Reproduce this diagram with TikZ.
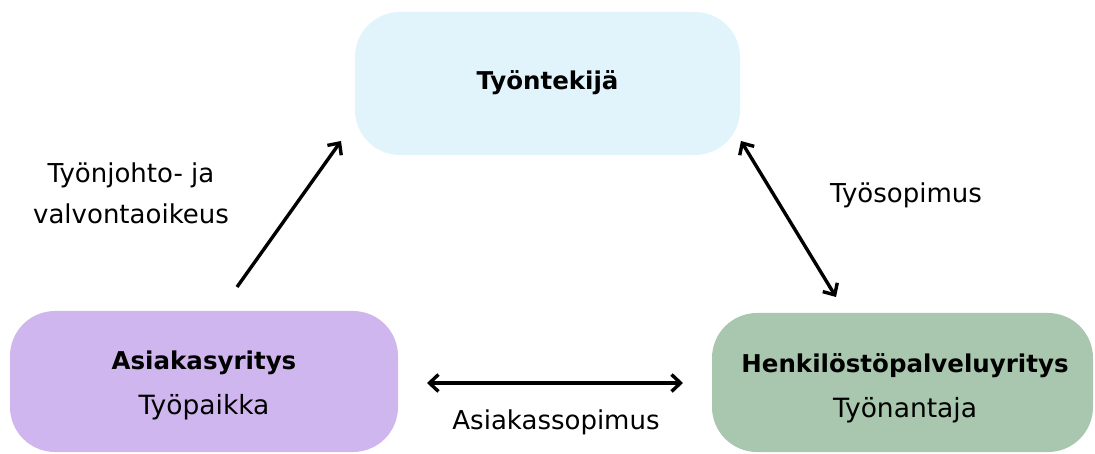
\documentclass[tikz,border=0pt]{standalone}
\usepackage{fontspec}
\setmainfont{DejaVu Sans}
\usetikzlibrary{arrows.meta}
\definecolor{topfill}{HTML}{E1F4FC}
\definecolor{leftfill}{HTML}{D0B6EE}
\definecolor{rightfill}{HTML}{A9C7AE}
\tikzset{
  party/.style={rounded corners=45pt, inner sep=0pt},
  partytext/.style={inner sep=0pt, align=center, font=\fontsize{26.5}{45}\selectfont},
  head/.style={font=\bfseries\fontsize{24.5}{45}\selectfont},
  barb/.tip={Straight Barb[length=9pt,width=17pt,line width=3.4pt]},
  rel/.style={line width=3.4pt, -barb},
  birel/.style={line width=3.4pt, barb-barb},
  lbl/.style={font=\fontsize{26}{41}\selectfont, align=center, inner sep=0pt}
}
\begin{document}
\begin{tikzpicture}[x=1pt,y=-1pt]
\useasboundingbox (0,0) rectangle (1095,454);
% the three parties
\node[party, fill=topfill, minimum width=385pt, minimum height=143pt] (worker) at (547.5,83.5) {};
\node[party, fill=leftfill, minimum width=388pt, minimum height=141pt] (client) at (204,381.5) {};
\node[party, fill=rightfill, minimum width=381pt, minimum height=139pt] (agency) at (902.5,382.5) {};
\node[partytext, head] (workertxt) at (547.5,83) {Työntekijä};
\node[partytext] (clienttxt) at (204,385) {{\bfseries\fontsize{24.5}{45}\selectfont Asiakasyritys}\\Työpaikka};
\node[partytext] (agencytxt) at (905,388) {{\bfseries\fontsize{24.5}{45}\selectfont Henkilöstöpalveluyritys}\\Työnantaja};
% connector ends
\coordinate (c1) at (237,287);
\coordinate (w1) at (341,141);
\coordinate (w2) at (741,141);
\coordinate (a1) at (836,297);
\coordinate (c2) at (427,383);
\coordinate (a2) at (683,383);
\draw[rel] (c1) -- (w1);
\draw[birel] (w2) -- (a1);
\draw[birel] (c2) -- (a2);
% relation labels
\node[lbl] (l1) at (131,193) {Työnjohto- ja\\valvontaoikeus};
\node[lbl] (l2) at (906,195) {Työsopimus};
\node[lbl] (l3) at (556,422) {Asiakassopimus};
\end{tikzpicture}
\end{document}
